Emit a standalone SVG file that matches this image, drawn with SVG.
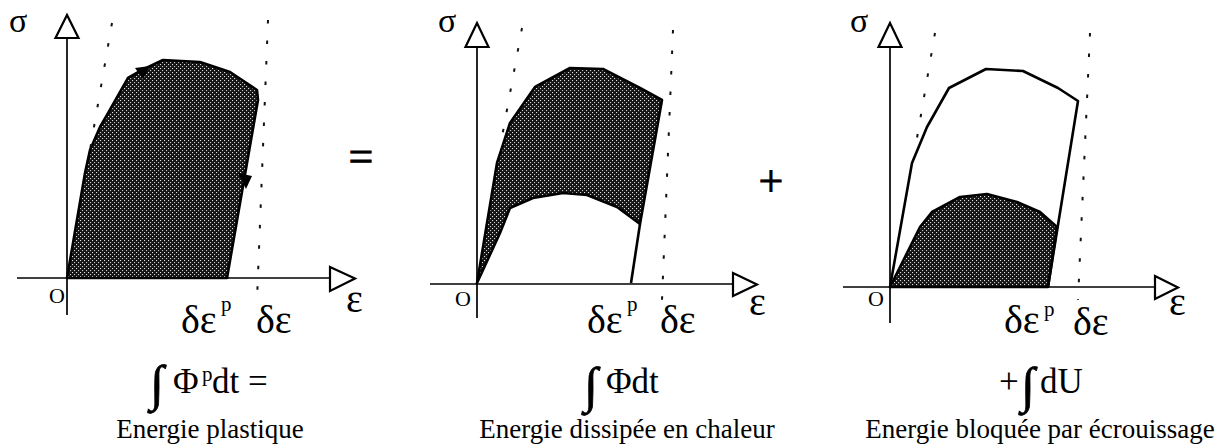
<svg xmlns="http://www.w3.org/2000/svg" width="1229" height="448" viewBox="0 0 1229 448">
<style>
  .t { font-family: "Liberation Serif", "Times New Roman", serif; fill: #000; }
  .g { font-size: 40px; }
  .s { font-size: 34px; }
  .o { font-size: 22px; }
  .sup { font-size: 21px; }
  .f { font-size: 35px; }
  .int { font-size: 50px; stroke: #000; stroke-width: 0.8; }
  .cap { font-size: 27px; }
  .axis { stroke: #000; stroke-width: 1.7; fill: none; }
  .head { stroke: #000; stroke-width: 2.2; fill: #fff; stroke-linejoin: miter; }
  .dot { stroke: #111; stroke-width: 2; stroke-dasharray: 3.5 17; fill: none; }
  .curve { stroke: #000; stroke-width: 2.6; fill: none; stroke-linejoin: round; }
  .shade { fill: url(#stip); stroke: #000; stroke-width: 2.6; stroke-linejoin: round; }
</style>
<defs>
  <pattern id="stip" width="4" height="4" patternUnits="userSpaceOnUse">
    <rect width="4" height="4" fill="#141414"/>
    <rect x="0" y="0" width="1.1" height="1.1" fill="#e0e0e0"/>
    <rect x="2" y="2" width="1.1" height="1.1" fill="#cfcfcf"/>
  </pattern>
</defs>

<g id="panel1">
  <path class="shade" d="M67,278 L85,173 L90,150 L100,127 L107,115 L128,78 L142,70 L163,60 L200,62 L230,72 L257,90 L258,100 L227,278 Z"/>
  <polygon points="135,68 150,66 143,79" fill="#000"/>
  <polygon points="238,173 252,176 246,189" fill="#000"/>
  <line class="dot" x1="112" y1="23" x2="90" y2="150"/>
  <line class="dot" x1="268" y1="20" x2="257" y2="300"/>
  <line class="axis" x1="67" y1="38" x2="67" y2="315"/>
  <line class="axis" x1="17" y1="278" x2="330" y2="278"/>
  <polygon class="head" points="67,15 55.5,38 78.5,38"/>
  <polygon class="head" points="330,267 355,278.5 330,291"/>
  <text class="t s" x="9" y="32">σ</text>
  <text class="t o" x="49" y="303">O</text>
  <text class="t g" x="346" y="312">ε</text>
  <text class="t g" x="181" y="333">δε</text>
  <text class="t sup" x="221" y="311">p</text>
  <text class="t g" x="256" y="333">δε</text>
  <text class="t int" x="150" y="400">∫</text>
  <text class="t f" x="173" y="393">Φ</text>
  <text class="t sup" x="202" y="381">p</text>
  <text class="t f" x="212" y="393">dt =</text>
  <text class="t cap" x="210" y="438" text-anchor="middle">Energie plastique</text>
</g>

<g id="equals">
  <text class="t" x="361" y="171" font-size="44" text-anchor="middle" stroke="#000" stroke-width="0.8">=</text>
</g>

<g id="panel2">
  <path class="shade" d="M477,283 L497,163 L510,123 L535,87 L570,68 L603,69 L640,88 L662,100 L640,224 L617,207 L587,195 L563,193 L533,198 L510,208 L500,233 Z"/>
  <line class="curve" x1="640" y1="224" x2="631" y2="283"/>
  <line class="dot" x1="522" y1="28" x2="502" y2="137"/>
  <line class="dot" x1="673" y1="30" x2="662" y2="300"/>
  <line class="axis" x1="477" y1="47" x2="477" y2="318"/>
  <line class="axis" x1="430" y1="284" x2="733" y2="284"/>
  <polygon class="head" points="477,23 465.5,47 488.5,47"/>
  <polygon class="head" points="733,273 757,284.5 733,296"/>
  <text class="t s" x="438" y="32">σ</text>
  <text class="t o" x="455" y="306">O</text>
  <text class="t g" x="749" y="315">ε</text>
  <text class="t g" x="587" y="333">δε</text>
  <text class="t sup" x="627" y="311">p</text>
  <text class="t g" x="660" y="333">δε</text>
  <text class="t int" x="584" y="402">∫</text>
  <text class="t f" x="606" y="393">Φdt</text>
  <text class="t cap" x="627" y="438" text-anchor="middle">Energie dissipée en chaleur</text>
</g>

<g id="plus">
  <text class="t" x="771" y="196" font-size="44" text-anchor="middle" stroke="#000" stroke-width="0.8">+</text>
</g>

<g id="panel3">
  <path class="shade" d="M890,287 L905,257 L920,227 L932,212 L960,197 L987,194 L1017,202 L1040,212 L1057,227 L1048,287 Z"/>
  <path class="curve" d="M890,287 L912,163 L927,127 L949,88 L986,69 L1023,71 L1058,88 L1078,101 L1048,287"/>
  <line class="dot" x1="935" y1="33" x2="917" y2="138"/>
  <line class="dot" x1="1090" y1="33" x2="1078" y2="300"/>
  <line class="axis" x1="890" y1="47" x2="890" y2="323"/>
  <line class="axis" x1="843" y1="287" x2="1155" y2="287"/>
  <polygon class="head" points="890,23 878.5,47 901.5,47"/>
  <polygon class="head" points="1155,276 1178,287.5 1155,299"/>
  <text class="t s" x="850" y="32">σ</text>
  <text class="t o" x="868" y="306">O</text>
  <text class="t g" x="1169" y="315">ε</text>
  <text class="t g" x="1004" y="333">δε</text>
  <text class="t sup" x="1044" y="316">p</text>
  <text class="t g" x="1073" y="335">δε</text>
  <text class="t f" x="999" y="393">+</text>
  <text class="t int" x="1021" y="402">∫</text>
  <text class="t f" x="1040" y="393">dU</text>
  <text class="t cap" x="1040" y="438" text-anchor="middle">Energie bloquée par écrouissage</text>
</g>
</svg>
